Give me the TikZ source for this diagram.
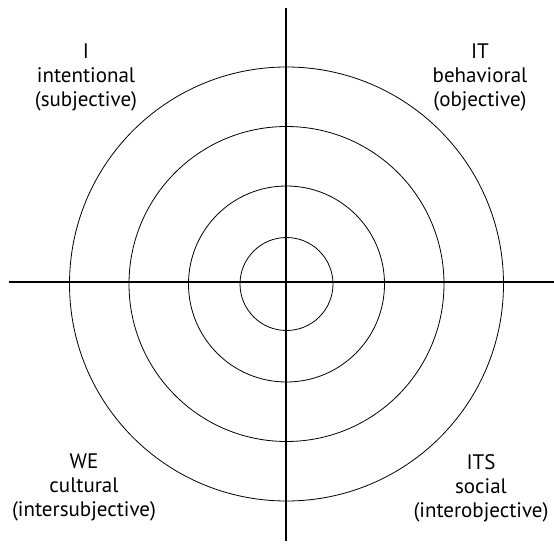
\documentclass[tikz,border=0pt]{standalone}
\usepackage{fontspec}
\setmainfont{PT Sans}
\begin{document}
\begin{tikzpicture}[x=1pt,y=-1pt,
  axis/.style={line width=1.8pt},
  ring/.style={line width=0.8pt},
  lab/.style={align=center, font=\fontsize{21}{24}\selectfont, inner sep=0pt, anchor=north}]
\useasboundingbox (0,0) rectangle (554,548);
\coordinate (c) at (286.5,284);
\foreach \r in {46.5,98,157.5,217} \draw[ring] (c) circle[radius=\r];
\coordinate (l) at (9,282);
\coordinate (r) at (554,282);
\coordinate (t) at (286,8);
\coordinate (b) at (286,541);
\draw[axis] (l) -- (r);
\draw[axis] (t) -- (b);
\node[lab] (tl) at (86,44) {I\\intentional\\(subjective)};
\node[lab] (tr) at (480,44) {IT\\behavioral\\(objective)};
\node[lab] (bl) at (84,454) {WE\\cultural\\(intersubjective)};
\node[lab] (br) at (481,454) {ITS\\social\\(interobjective)};
\end{tikzpicture}
\end{document}
